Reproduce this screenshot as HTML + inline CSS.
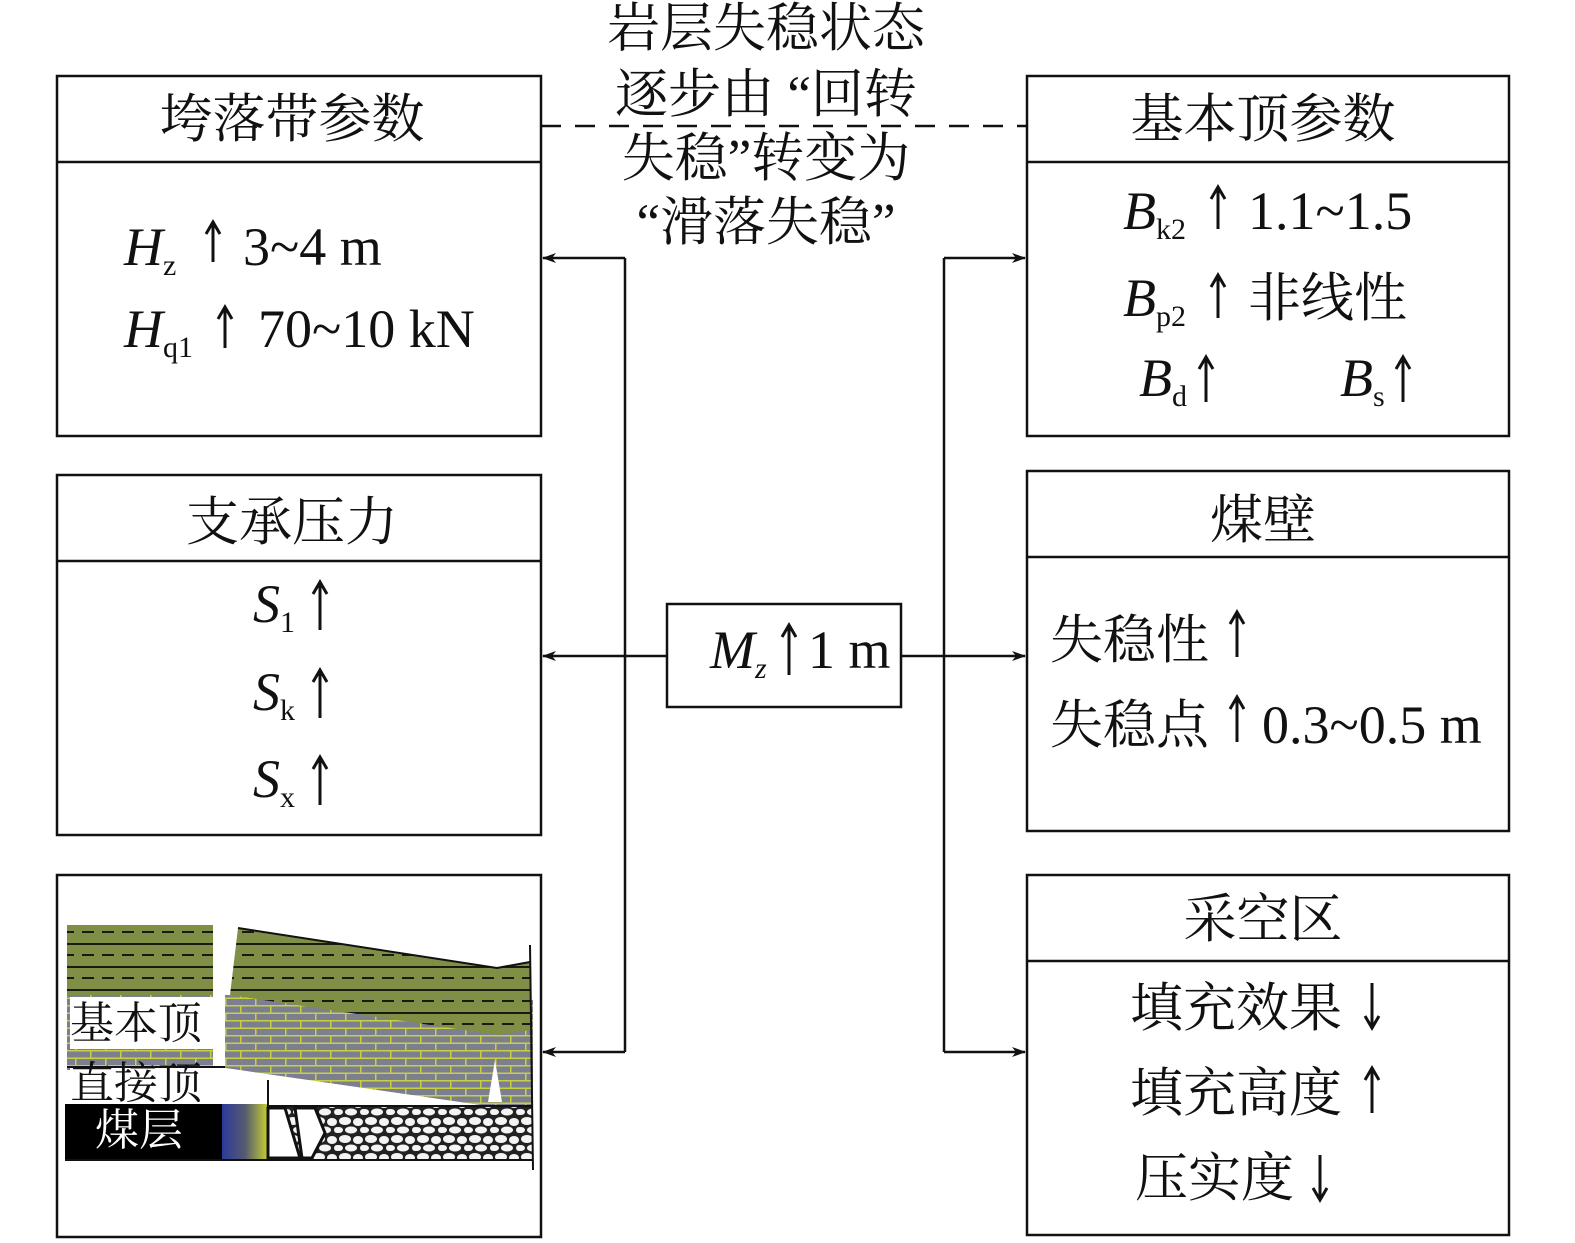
<!DOCTYPE html>
<html><head><meta charset="utf-8"><style>
html,body{margin:0;padding:0;background:#fff}
svg{display:block}
text{font-family:"Liberation Serif","Noto Serif CJK SC",serif;fill:#111}
.cn{font-size:53px}
.it{font-style:italic}
</style></head><body>
<svg width="1575" height="1243" viewBox="0 0 1575 1243" xmlns="http://www.w3.org/2000/svg">
<defs>
<marker id="ar" markerWidth="14" markerHeight="10" refX="13" refY="5" orient="auto" markerUnits="userSpaceOnUse">
<path d="M0,0 L14,5 L0,10 L4,5 Z" fill="#111"/></marker>
<pattern id="green" width="40" height="23" patternUnits="userSpaceOnUse">
<rect width="40" height="23" fill="#7f8f46"/>
<rect y="0" width="40" height="2" fill="#1a1a10"/>
<rect x="2" y="11" width="12" height="2" fill="#1a1a10"/><rect x="22" y="11" width="12" height="2" fill="#1a1a10"/>
</pattern>
<pattern id="brick" width="30" height="15" patternUnits="userSpaceOnUse">
<rect width="30" height="15" fill="#7b7f90"/>
<rect y="0" width="30" height="1.5" fill="#c8d040"/>
<rect x="0" y="0" width="1.5" height="7.5" fill="#c8d040"/>
<rect y="7.5" width="30" height="1.5" fill="#c8d040"/>
<rect x="15" y="7.5" width="1.5" height="7.5" fill="#c8d040"/>
</pattern>
<pattern id="rubble" width="26" height="18" patternUnits="userSpaceOnUse">
<rect width="26" height="18" fill="#222"/>
<ellipse cx="7" cy="5" rx="6" ry="4" fill="#f4f4f4"/>
<ellipse cx="20" cy="6" rx="5" ry="4" fill="#f4f4f4"/>
<ellipse cx="13" cy="14" rx="6" ry="3.5" fill="#f4f4f4"/>
<ellipse cx="1" cy="14" rx="4" ry="3" fill="#f4f4f4"/>
<ellipse cx="25" cy="14" rx="3" ry="3" fill="#f4f4f4"/>
</pattern>
<linearGradient id="grad" x1="0" x2="1" y1="0" y2="0">
<stop offset="0" stop-color="#2c3a9a"/><stop offset="0.5" stop-color="#555a70"/><stop offset="1" stop-color="#c8d030"/></linearGradient>
</defs>

<line x1="541" y1="126" x2="1027" y2="126" stroke="#111" stroke-width="2.5" stroke-dasharray="20,14"/>

<g class="cn" text-anchor="middle">
<text x="766" y="46">岩层失稳状态</text>
<text x="766" y="112">逐步由 “回转</text>
<text x="766" y="176">失稳”转变为</text>
<text x="766" y="240">“滑落失稳”</text>
</g>

<g fill="none" stroke="#111" stroke-width="2.5">
<rect x="57" y="76" width="484" height="360"/><line x1="57" y1="162" x2="541" y2="162"/>
<rect x="57" y="475" width="484" height="360"/><line x1="57" y1="561" x2="541" y2="561"/>
<rect x="57" y="875" width="484" height="362"/>
<rect x="1027" y="76" width="482" height="360"/><line x1="1027" y1="162" x2="1509" y2="162"/>
<rect x="1027" y="471" width="482" height="360"/><line x1="1027" y1="557" x2="1509" y2="557"/>
<rect x="1027" y="875" width="482" height="360"/><line x1="1027" y1="961" x2="1509" y2="961"/>
<rect x="667" y="604" width="234" height="103"/>
</g>

<g fill="none" stroke="#111" stroke-width="2.5">
<line x1="625" y1="258" x2="625" y2="1052"/>
<line x1="625" y1="258" x2="543" y2="258" marker-end="url(#ar)"/>
<line x1="667" y1="656" x2="543" y2="656" marker-end="url(#ar)"/>
<line x1="625" y1="1052" x2="543" y2="1052" marker-end="url(#ar)"/>
<line x1="944" y1="258" x2="944" y2="1052"/>
<line x1="944" y1="258" x2="1025" y2="258" marker-end="url(#ar)"/>
<line x1="901" y1="656" x2="1025" y2="656" marker-end="url(#ar)"/>
<line x1="944" y1="1052" x2="1025" y2="1052" marker-end="url(#ar)"/>
</g>

<g class="cn" text-anchor="middle">
<text x="292" y="137">垮落带参数</text>
<text x="292" y="540">支承压力</text>
<text x="1263" y="137">基本顶参数</text>
<text x="1263" y="538">煤壁</text>
<text x="1263" y="937">采空区</text>
</g>

<!-- vertical arrows -->
<g fill="none" stroke="#111" stroke-width="3">
<path d="M213,262 V222 M206,234 L213,222 L220,234"/>
<path d="M225,348 V307 M218,319 L225,307 L232,319"/>
<path d="M1218,229 V187 M1211,199 L1218,187 L1225,199"/>
<path d="M1218,318 V275 M1211,287 L1218,275 L1225,287"/>
<path d="M1206,402 V357 M1199,369 L1206,357 L1213,369"/>
<path d="M1403,402 V357 M1396,369 L1403,357 L1410,369"/>
<path d="M320,630 V582 M313,594 L320,582 L327,594"/>
<path d="M320,718 V670 M313,682 L320,670 L327,682"/>
<path d="M320,805 V757 M313,769 L320,757 L327,769"/>
<path d="M789,675 V625 M782,637 L789,625 L796,637"/>
<path d="M1237,657 V612 M1230,624 L1237,612 L1244,624"/>
<path d="M1237,742 V697 M1230,709 L1237,697 L1244,709"/>
<path d="M1372,983 V1028 M1365,1016 L1372,1028 L1379,1016"/>
<path d="M1372,1113 V1068 M1365,1080 L1372,1068 L1379,1080"/>
<path d="M1320,1155 V1200 M1313,1188 L1320,1200 L1327,1188"/>
</g>

<g font-size="54">
<text x="124" y="265"><tspan class="it">H</tspan><tspan font-size="30" dy="10">z</tspan></text>
<text x="243" y="265">3~4 m</text>
<text x="124" y="347"><tspan class="it">H</tspan><tspan font-size="30" dy="10">q1</tspan></text>
<text x="258" y="347">70~10 kN</text>

<text x="253" y="622"><tspan class="it">S</tspan><tspan font-size="30" dy="10">1</tspan></text>
<text x="253" y="710"><tspan class="it">S</tspan><tspan font-size="30" dy="10">k</tspan></text>
<text x="253" y="797"><tspan class="it">S</tspan><tspan font-size="30" dy="10">x</tspan></text>

<text x="1123" y="229"><tspan class="it">B</tspan><tspan font-size="30" dy="10">k2</tspan></text>
<text x="1248" y="229">1.1~1.5</text>
<text x="1123" y="316"><tspan class="it">B</tspan><tspan font-size="30" dy="10">p2</tspan></text>
<text x="1248" y="316" font-size="53">非线性</text>
<text x="1139" y="396"><tspan class="it">B</tspan><tspan font-size="30" dy="10">d</tspan></text>
<text x="1340" y="396"><tspan class="it">B</tspan><tspan font-size="30" dy="10">s</tspan></text>

<text x="710" y="668"><tspan class="it">M</tspan><tspan font-size="30" dy="10" class="it">z</tspan></text>
<text x="808" y="668">1 m</text>

<text x="1050" y="658" font-size="53">失稳性</text>
<text x="1050" y="743" font-size="53">失稳点</text>
<text x="1262" y="743">0.3~0.5 m</text>

<text x="1130" y="1026" font-size="53">填充效果</text>
<text x="1130" y="1111" font-size="53">填充高度</text>
<text x="1135" y="1196" font-size="53">压实度</text>
</g>

<!-- illustration -->
<g>
<rect x="67" y="925" width="146" height="72" fill="url(#green)"/>
<rect x="67" y="995" width="146" height="75" fill="url(#brick)"/>
<polygon points="225,995 533,1000 533,1105 480,1105 225,1068" fill="url(#brick)"/>
<polygon points="238,928 497,968 497,1035 230,995" fill="url(#green)"/>
<polygon points="497,968 530,962 530,1030 497,1035" fill="url(#green)"/>
<polyline points="238,928 497,968 530,962" fill="none" stroke="#111" stroke-width="2"/>
<polygon points="225,1068 480,1105 225,1105" fill="#fff"/>
<polygon points="488,1102 495,1060 502,1102" fill="#fff"/>
<rect x="70" y="997" width="143" height="52" fill="#fff"/>
<text x="70" y="1038" font-size="44">基本顶</text>
<rect x="70" y="1067" width="150" height="36" fill="#fff"/>
<line x1="67" y1="1067" x2="225" y2="1067" stroke="#111" stroke-width="2"/>
<text x="70" y="1098" font-size="44">直接顶</text>
<rect x="65" y="1104" width="157" height="56" fill="#000"/>
<text x="95" y="1145" font-size="44" style="fill:#fff">煤层</text>
<rect x="222" y="1104" width="46" height="56" fill="url(#grad)"/>
<line x1="268" y1="1080" x2="268" y2="1160" stroke="#111" stroke-width="2"/>
<rect x="268" y="1106" width="265" height="54" fill="url(#rubble)"/>
<polygon points="268,1108 285,1108 300,1158 268,1158" fill="#fff" stroke="#111" stroke-width="3"/>
<polygon points="295,1108 315,1108 325,1133 312,1158 302,1158" fill="#fff" stroke="#111" stroke-width="3"/>
<line x1="268" y1="1106" x2="533" y2="1106" stroke="#111" stroke-width="2"/>
<line x1="65" y1="1160" x2="533" y2="1160" stroke="#111" stroke-width="2"/>
<line x1="530" y1="945" x2="533" y2="1170" stroke="#111" stroke-width="2"/>
</g>
</svg>
</body></html>
